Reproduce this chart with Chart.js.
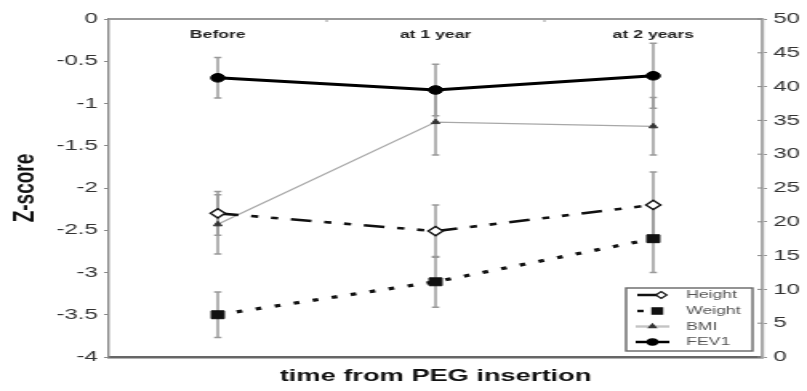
<!DOCTYPE html>
<html>
<head>
<meta charset="utf-8">
<script src="https://cdn.jsdelivr.net/npm/chart.js@4/dist/chart.umd.min.js"></script>
<style>
  html, body { margin: 0; padding: 0; background: #fff; overflow: hidden; }
  #wrap { position: absolute; left: 0; top: 0; width: 504px; height: 391px;
          transform: scaleX(1.6012); transform-origin: 0 0; }
</style>
</head>
<body>
<div id="wrap"><canvas id="c"></canvas></div>
<script>
// ---- data ----
const categories = ['Before', 'at 1 year', 'at 2 years'];
const seriesNames = ['Height', 'Weight', 'BMI', 'FEV1'];
const heightZ   = [-2.30, -2.51, -2.20];
const heightErr = [0.26, 0.31, 0.39];
const weightZ   = [-3.50, -3.11, -2.60];
const weightErr = [0.27, 0.30, 0.40];
const bmiZ      = [-2.43, -1.22, -1.27];
const bmiErr    = [0.35, 0.39, 0.34];
const fev1      = [41.3, 39.5, 41.6];
const fev1Err   = [3.0, 3.8, 4.8];
const zTicks    = [0, -0.5, -1, -1.5, -2, -2.5, -3, -3.5, -4];
const fevTicks  = [0, 5, 10, 15, 20, 25, 30, 35, 40, 45, 50];
const xTitle = 'time from PEG insertion';
const yTitle = 'Z-score';

const errorSets = [heightErr, weightErr, bmiErr, fev1Err];

Chart.defaults.font.family = "'Liberation Sans', Arial, sans-serif";

const errPlugin = {
  id: 'errbars',
  beforeDatasetsDraw(chart) {
    const ctx = chart.ctx, xs = chart.scales.x;
    ctx.save();
    ctx.strokeStyle = '#9a9a9a';
    ctx.lineWidth = 1.5;
    chart.data.datasets.forEach((ds, i) => {
      const ys = chart.scales[ds.yAxisID];
      const errs = errorSets[i];
      ds.data.forEach((v, j) => {
        const px = xs.getPixelForValue(j);
        const top = ys.getPixelForValue(v + errs[j]);
        const bot = ys.getPixelForValue(v - errs[j]);
        ctx.beginPath();
        ctx.moveTo(px, top); ctx.lineTo(px, bot);
        ctx.moveTo(px - 2.3, top); ctx.lineTo(px + 2.3, top);
        ctx.moveTo(px - 2.3, bot); ctx.lineTo(px + 2.3, bot);
        ctx.stroke();
      });
    });
    ctx.restore();
  },
  afterDraw(chart) {
    const ctx = chart.ctx, xs = chart.scales.x, a = chart.chartArea;
    ctx.save();
    // top frame line
    ctx.strokeStyle = '#999';
    ctx.lineWidth = 2;
    ctx.beginPath();
    ctx.moveTo(a.left, a.top); ctx.lineTo(a.right, a.top);
    ctx.stroke();
    // boundary ticks on top line
    const step = xs.getPixelForValue(1) - xs.getPixelForValue(0);
    ctx.lineWidth = 1;
    for (let j = 0; j < categories.length - 1; j++) {
      const bx = xs.getPixelForValue(j) + step / 2;
      ctx.beginPath(); ctx.moveTo(bx, a.top); ctx.lineTo(bx, a.top + 3); ctx.stroke();
    }
    // right axis ticks crossing into the plot
    const y2 = chart.scales.y2;
    ctx.strokeStyle = '#888';
    fevTicks.forEach(v => {
      const py = y2.getPixelForValue(v);
      ctx.beginPath(); ctx.moveTo(a.right - 3, py); ctx.lineTo(a.right, py); ctx.stroke();
    });
    // category labels inside the top of the plot
    ctx.fillStyle = '#222';
    ctx.font = "bold 11px 'Liberation Sans', Arial, sans-serif";
    ctx.textAlign = 'center';
    ctx.textBaseline = 'middle';
    categories.forEach((c, j) => ctx.fillText(c, xs.getPixelForValue(j), a.top + 16));

    // legend box
    const lx = 391, ly = 288, lw = 79, lh = 63;
    ctx.fillStyle = '#fff';
    ctx.fillRect(lx, ly, lw, lh);
    ctx.strokeStyle = '#666';
    ctx.lineWidth = 1.4;
    ctx.strokeRect(lx, ly, lw, lh);
    const rows = [295, 311, 326.5, 342];
    const dss = chart.data.datasets;
    ctx.font = "11px 'Liberation Sans', Arial, sans-serif";
    ctx.textAlign = 'left';
    rows.forEach((ry, i) => {
      const ds = dss[i];
      ctx.save();
      ctx.strokeStyle = i === 2 ? '#c4c4c4' : ds.borderColor;
      ctx.lineWidth = i === 2 ? 2.4 : Math.min(ds.borderWidth, 2.5);
      ctx.beginPath();
      if (i === 1) {
        ctx.moveTo(398, ry); ctx.lineTo(402, ry);
      } else if (i === 0) {
        ctx.moveTo(398, ry); ctx.lineTo(410, ry);
      } else {
        ctx.moveTo(397, ry); ctx.lineTo(418, ry);
      }
      ctx.stroke();
      ctx.restore();
      const mx = i === 0 ? 413 : (i === 1 ? 410.5 : 407.5);
      ctx.save();
      ctx.fillStyle = ds.pointBackgroundColor;
      ctx.strokeStyle = ds.pointBorderColor;
      ctx.lineWidth = 1.2;
      Chart.helpers.drawPointLegend(ctx, {
        pointStyle: ds.pointStyle,
        radius: i === 2 ? 2.5 : Math.max(ds.pointRadius - 1.2, 2.5),
        borderWidth: 1.2,
        rotation: 0
      }, mx, ry, 0);
      ctx.restore();
      ctx.fillStyle = '#555';
      ctx.fillText(seriesNames[i], 428.5, ry);
    });
    ctx.restore();
  }
};

new Chart(document.getElementById('c'), {
  type: 'line',
  data: {
    labels: categories,
    datasets: [
      { label: seriesNames[0], data: heightZ, yAxisID: 'y',
        borderColor: '#111', borderWidth: 2.6, borderDash: [13, 8, 4.5, 8, 4.5, 8],
        pointStyle: 'rectRot', pointRadius: 4.6, pointBackgroundColor: '#fff',
        pointBorderColor: '#111', pointBorderWidth: 1.4, tension: 0 },
      { label: seriesNames[1], data: weightZ, yAxisID: 'y',
        borderColor: '#111', borderWidth: 3.2, borderDash: [3.6, 8.6],
        pointStyle: 'rect', pointRadius: 5.6, pointBackgroundColor: '#111',
        pointBorderColor: '#111', pointBorderWidth: 1, tension: 0 },
      { label: seriesNames[2], data: bmiZ, yAxisID: 'y',
        borderColor: '#a8a8a8', borderWidth: 1.3,
        pointStyle: 'triangle', pointRadius: 3, pointBackgroundColor: '#333',
        pointBorderColor: '#333', pointBorderWidth: 1, tension: 0 },
      { label: seriesNames[3], data: fev1, yAxisID: 'y2',
        borderColor: '#000', borderWidth: 3,
        pointStyle: 'circle', pointRadius: 4.3, pointBackgroundColor: '#000',
        pointBorderColor: '#000', pointBorderWidth: 1, tension: 0 }
    ]
  },
  options: {
    responsive: true,
    maintainAspectRatio: false,
    animation: false,
    layout: { padding: { top: 19, left: 0, right: 0, bottom: 0 } },
    plugins: { legend: { display: false }, tooltip: { enabled: false } },
    scales: {
      x: {
        type: 'category', offset: true, position: 'bottom',
        grid: { display: false },
        ticks: { display: false },
        border: { display: true, color: '#666', width: 2.6 },
        title: { display: true, text: xTitle, color: '#111',
                 font: { size: 17, weight: 'bold' }, padding: { top: 4, bottom: 4 } },
        afterFit: s => { s.height = 34; }
      },
      y: {
        position: 'left', min: -4, max: 0,
        afterBuildTicks: s => { s.ticks = zTicks.map(v => ({ value: v })); },
        ticks: { color: '#333', font: { size: 15 }, padding: 4,
                 callback: v => String(v) },
        grid: { drawOnChartArea: false, drawTicks: true, tickLength: 3, color: '#888', lineWidth: 1 },
        border: { display: true, color: '#888', width: 1.4 },
        title: { display: true, text: yTitle, color: '#111',
                 font: { size: 19, weight: 'bold' }, padding: { top: 4, bottom: 4 } },
        afterFit: s => { s.width = 68; }
      },
      y2: {
        position: 'right', min: 0, max: 50,
        afterBuildTicks: s => { s.ticks = fevTicks.map(v => ({ value: v })); },
        ticks: { color: '#333', font: { size: 15 }, padding: 4,
                 callback: v => String(v) },
        grid: { drawOnChartArea: false, drawTicks: true, tickLength: 3, color: '#888', lineWidth: 1 },
        border: { display: true, color: '#aaa', width: 2.2 },
        afterFit: s => { s.width = 28; }
      }
    }
  },
  plugins: [errPlugin]
});
</script>
</body>
</html>
